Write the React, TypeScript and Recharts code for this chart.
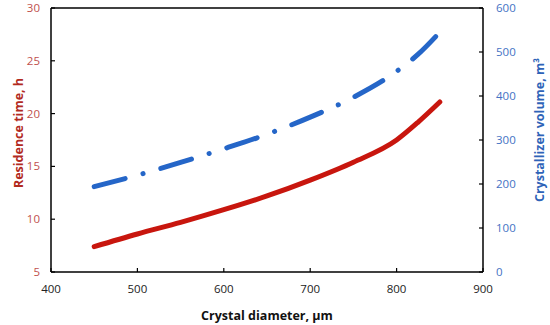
import { LineChart, Line, XAxis, YAxis, ReferenceLine } from 'recharts';

// crystal diameter (µm)
const diameters = [450, 500, 550, 600, 650, 700, 750, 800, 825, 850];
// residence time (h), left axis
const residenceTime = [7.4, 8.6, 9.7, 10.9, 12.2, 13.7, 15.4, 17.5, 19.2, 21.1];
// crystallizer volume (m3), right axis
const volume = [194, 220, 249, 280, 313, 352, 397, 456, 495, 545];

const xTicks = [400, 500, 600, 700, 800, 900];
const leftTicks = [5, 10, 15, 20, 25, 30];
const rightTicks = [0, 100, 200, 300, 400, 500, 600];

const data = diameters.map((d, i) => ({ d, time: residenceTime[i], vol: volume[i] }));

const FONT = '"Open Sans", "DejaVu Sans", sans-serif';

function LeftTitle() {
  return (
    <text x={18} y={133} transform="rotate(-90 18 133)" textAnchor="middle" dominantBaseline="central"
      fontFamily={FONT} fontSize={12.5} fontWeight={700} fill="#b22a1e">
      Residence time, h
    </text>
  );
}

function RightTitle() {
  return (
    <text x={539} y={130} transform="rotate(-90 539 130)" textAnchor="middle" dominantBaseline="central"
      fontFamily={FONT} fontSize={12.5} fontWeight={700} fill="#2e63b8">
      Crystallizer volume, m³
    </text>
  );
}

function BottomTitle() {
  return (
    <text x={267} y={315} textAnchor="middle" dominantBaseline="central"
      fontFamily={FONT} fontSize={12.5} fontWeight={700} fill="#111">
      Crystal diameter, µm
    </text>
  );
}

export default function App() {
  return (
    <div style={{ position: 'absolute', left: 0, top: 0, background: '#fff' }}>
      <LineChart width={550} height={325} data={data} margin={{ top: 8, right: 0, bottom: 0, left: 0 }}>
        <XAxis
          dataKey="d"
          type="number"
          domain={[400, 900]}
          ticks={xTicks}
          height={53}
          tickSize={-4}
          tickMargin={17}
          axisLine={{ stroke: '#000', strokeWidth: 1.5 }}
          tickLine={{ stroke: '#000', strokeWidth: 1.2 }}
          tick={{ fontFamily: FONT, fontSize: 11.5, fill: '#222' }}
          label={<BottomTitle />}
        />
        <YAxis
          yAxisId="left"
          domain={[5, 30]}
          ticks={leftTicks}
          width={51}
          tickSize={-4}
          tickMargin={15}
          axisLine={{ stroke: '#000', strokeWidth: 1.5 }}
          tickLine={{ stroke: '#000', strokeWidth: 1.2 }}
          tick={{ fontFamily: FONT, fontSize: 11.5, fill: '#c0504d' }}
          label={<LeftTitle />}
        />
        <YAxis
          yAxisId="right"
          orientation="right"
          domain={[0, 600]}
          ticks={rightTicks}
          width={67}
          tickSize={-4}
          tickMargin={17}
          axisLine={{ stroke: '#000', strokeWidth: 1.5 }}
          tickLine={{ stroke: '#000', strokeWidth: 1.2 }}
          tick={{ fontFamily: FONT, fontSize: 11.5, fill: '#4472c4' }}
          label={<RightTitle />}
        />
        <ReferenceLine yAxisId="left" y={30} stroke="#000" strokeWidth={1.5} />
        <Line
          yAxisId="left"
          dataKey="time"
          type="monotone"
          stroke="#c8160e"
          strokeWidth={5}
          strokeLinecap="round"
          dot={false}
          isAnimationActive={false}
        />
        <Line
          yAxisId="right"
          dataKey="vol"
          type="monotone"
          stroke="#2566c8"
          strokeWidth={5}
          strokeLinecap="round"
          strokeDasharray="32 18.5 0.1 18.5"
          dot={false}
          isAnimationActive={false}
        />
      </LineChart>
    </div>
  );
}
